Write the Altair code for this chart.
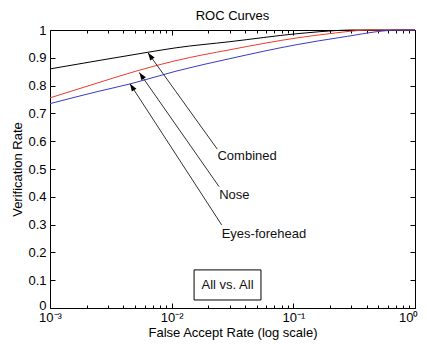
import math
import altair as alt
import pandas as pd

# ---- data ----
series_names = ["Combined", "Nose", "Eyes-forehead"]
series_colors = ["#000000", "#f03a2a", "#3a3ac4"]

far_combined = [0.001, 0.00258, 0.00639, 0.01087, 0.0301, 0.109, 0.1656, 0.309, 1.0]
vr_combined = [0.860, 0.891, 0.920, 0.936, 0.958, 0.987, 0.994, 1.0, 1.0]

far_nose = [0.001, 0.00248, 0.00528, 0.01087, 0.0301, 0.109, 0.2, 0.427, 1.0]
vr_nose = [0.756, 0.810, 0.854, 0.890, 0.929, 0.972, 0.987, 1.0, 1.0]

far_eyes = [0.001, 0.00248, 0.00455, 0.01087, 0.0301, 0.109, 0.2415, 0.753, 1.0]
vr_eyes = [0.735, 0.779, 0.806, 0.852, 0.897, 0.948, 0.973, 1.0, 1.0]

x_ticks = [m * 10.0 ** e for e in (-3, -2, -1) for m in range(1, 10)] + [1.0]
y_ticks = [i / 10 for i in range(11)]

arrow_tip_x = [0.00639, 0.00542, 0.004545]
arrow_tip_y = [0.918, 0.847, 0.8066]
arrow_tail_x = [0.0237, 0.0245, 0.02576]
arrow_tail_y = [0.5715, 0.4368, 0.2989]
label_x = [0.0238, 0.0246, 0.02576]
label_y = [0.545, 0.407, 0.2665]

box_text = ["All vs. All"]
box_x = [0.01528, 0.0542]
box_y = [0.0288, 0.137]

# ---- layout ----
W, H = 365, 278
FONT = "Liberation Sans"
FS = 13

rows = []
for name, xs_, ys_ in zip(series_names, [far_combined, far_nose, far_eyes], [vr_combined, vr_nose, vr_eyes]):
    for i, (a, b) in enumerate(zip(xs_, ys_)):
        rows.append({"far": a, "vr": b, "series": name, "order": i})
curves = pd.DataFrame(rows)


def px(x):
    return W * (math.log10(x) + 3) / 3


def py(y):
    return H * (1 - y)


angles = []
for tx, ty, sx, sy in zip(arrow_tip_x, arrow_tip_y, arrow_tail_x, arrow_tail_y):
    dx = px(tx) - px(sx)
    dy = py(ty) - py(sy)
    angles.append(math.degrees(math.atan2(dx, -dy)) % 360)

arrows = pd.DataFrame({
    "tx": arrow_tip_x, "ty": arrow_tip_y,
    "sx": arrow_tail_x, "sy": arrow_tail_y,
    "angle": angles,
})
labels = pd.DataFrame({"lx": label_x, "ly": label_y, "text": series_names})
box = pd.DataFrame({"bx1": [box_x[0]], "bx2": [box_x[1]], "by1": [box_y[0]], "by2": [box_y[1]],
                    "cx": [math.sqrt(box_x[0] * box_x[1])], "cy": [(box_y[0] + box_y[1]) / 2],
                    "t": box_text})

xscale = alt.Scale(type="log", domain=[0.001, 1], nice=False)
yscale = alt.Scale(domain=[0, 1], nice=False, zero=False)

major_test = "abs(log(datum.value)/LN10 - round(log(datum.value)/LN10)) < 0.001"
x_tick_size = {"condition": {"test": major_test, "value": 5}, "value": 3}

x_label_expr = (
    "abs(datum.value-0.001)<1e-9 ? '10⁻³' : abs(datum.value-0.01)<1e-9 ? '10⁻²' : "
    "abs(datum.value-0.1)<1e-9 ? '10⁻¹' : abs(datum.value-1)<1e-9 ? '10⁰' : ''"
)
last_test = "datum.value > 0.99"

main_x_axis = alt.Axis(
    orient="bottom", values=x_ticks, tickSize=0, domain=False, grid=False,
    labelExpr=x_label_expr, labelFont=FONT, labelFontSize=FS, labelColor="#000",
    labelPadding=3, labelOverlap=False, labelFlush=False,
    labelAlign={"condition": {"test": last_test, "value": "right"}, "value": "center"},
    labelOffset={"condition": {"test": last_test, "value": 3}, "value": 0},
    title="False Accept Rate (log scale)", titleFont=FONT, titleFontSize=FS,
    titleFontWeight="normal", titleColor="#000", titlePadding=2,
)
main_y_axis = alt.Axis(
    orient="left", values=y_ticks, tickSize=0, domain=False, grid=False,
    format=".1~f", labelFont=FONT, labelFontSize=FS, labelColor="#000",
    labelPadding=4, labelOverlap=False, labelFlush=False,
    labelOffset={"condition": {"test": "datum.value < 0.01", "value": -3}, "value": 0},
    title="Verification Rate", titleFont=FONT, titleFontSize=FS,
    titleFontWeight="normal", titleColor="#000", titlePadding=3,
)


def tick_axis(orient, offset, values, size):
    return alt.Axis(orient=orient, offset=offset, values=values, tickSize=size,
                    tickColor="#000", tickWidth=1, labels=False, domain=False,
                    grid=False, title=None)


lines = alt.Chart(curves).mark_line(strokeWidth=1, interpolate="monotone").encode(
    x=alt.X("far:Q", scale=xscale, axis=main_x_axis),
    y=alt.Y("vr:Q", scale=yscale, axis=main_y_axis),
    color=alt.Color("series:N", scale=alt.Scale(domain=series_names, range=series_colors), legend=None),
    order="order:Q",
)

rules = alt.Chart(arrows).mark_rule(color="#333", strokeWidth=1).encode(
    x=alt.X("sx:Q", scale=xscale, axis=None),
    y=alt.Y("sy:Q", scale=yscale, axis=None),
    x2="tx:Q", y2="ty:Q",
)

heads = alt.Chart(arrows).mark_point(
    shape="M0,0L0.6,1.7L-0.6,1.7Z", filled=True, size=80, color="#000", opacity=1
).encode(
    x=alt.X("tx:Q", scale=xscale, axis=None),
    y=alt.Y("ty:Q", scale=yscale, axis=None),
    angle=alt.Angle("angle:Q", scale=None),
)

boxrect = alt.Chart(box).mark_rect(fill="white", stroke="#000", strokeWidth=1).encode(
    x=alt.X("bx1:Q", scale=xscale, axis=tick_axis("top", -H, x_ticks, x_tick_size)),
    x2="bx2:Q",
    y=alt.Y("by1:Q", scale=yscale, axis=tick_axis("right", -W, y_ticks, 5)),
    y2="by2:Q",
)

boxtext = alt.Chart(box).mark_text(font=FONT, fontSize=FS, color="#111", align="center", baseline="middle").encode(
    x=alt.X("cx:Q", scale=xscale, axis=None),
    y=alt.Y("cy:Q", scale=yscale, axis=None),
    text="t:N",
)

labeltext = alt.Chart(labels).mark_text(font=FONT, fontSize=FS, color="#111", align="left", baseline="middle").encode(
    x=alt.X("lx:Q", scale=xscale, axis=tick_axis("bottom", -H, x_ticks, x_tick_size)),
    y=alt.Y("ly:Q", scale=yscale, axis=tick_axis("left", -W, y_ticks, 5)),
    text="text:N",
)

chart = alt.layer(lines, rules, heads, boxrect, boxtext, labeltext).resolve_axis(
    x="independent", y="independent"
).properties(
    width=W, height=H,
    title=alt.TitleParams("ROC Curves", font=FONT, fontSize=FS, fontWeight="normal", color="#000", offset=4, dy=3),
    autosize=alt.AutoSizeParams(type="none"),
    padding={"left": 42, "top": 22, "right": 4, "bottom": 35},
    background="white",
).configure_view(stroke="#000", strokeWidth=1)

chart.save("out.html", embed_options={"renderer": "svg", "actions": False})
